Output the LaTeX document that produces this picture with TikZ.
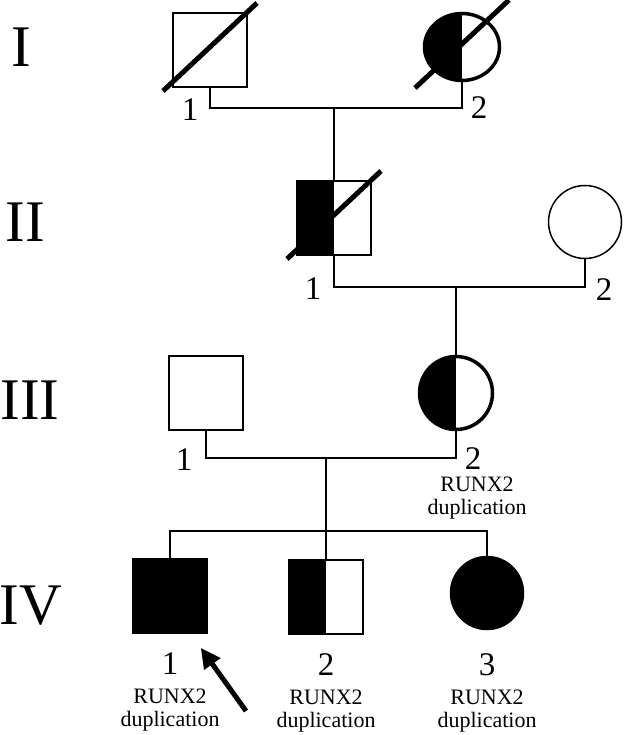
\documentclass[tikz,border=0pt]{standalone}
\usepackage{fontspec}
\setmainfont{Liberation Serif}
\usetikzlibrary{positioning,arrows.meta,calc,shapes.geometric}

\begin{document}
\begin{tikzpicture}[
    x=1pt, y=-1pt,
    every node/.style={inner sep=0pt, align=center},
    male/.style={draw, rectangle, minimum size=74pt, line width=1.5pt},
    female/.style={draw, circle, minimum size=73pt, line width=1.5pt},
    carrier/.style={line width=3.5pt},
    affected/.style={fill=black},
    halfaff/.style={path picture={\fill (path picture bounding box.south west) rectangle (path picture bounding box.north);}},
    dead/.style={line width=5pt},
    rel/.style={line width=1.6pt},
    gen/.style={font=\fontsize{59}{59}\selectfont},
    num/.style={font=\fontsize{33}{33}\selectfont},
    note/.style={font=\fontsize{22}{23}\selectfont},
    proband/.style={-{Triangle[length=20pt,width=19pt]}, line width=5pt}
  ]
  \useasboundingbox (0,0) rectangle (623,735);

  \foreach \g/\x/\y in {I/21/47, II/25/222, III/30/400, IV/31/606}
    {\node[gen] (g\g) at (\x,\y) {\g};}

  \node[male] (i1) at (210,50) {};
  \node[female, ellipse, minimum width=75pt, minimum height=67pt, carrier, halfaff] (i2) at (462,47) {};
  \node[male, halfaff] (ii1) at (334,218) {};
  \node[female] (ii2) at (585,222) {};
  \node[male] (iii1) at (206,393) {};
  \node[female, carrier, halfaff] (iii2) at (456,393) {};
  \node[male, affected] (iv1) at (170,596) {};
  \node[male, halfaff] (iv2) at (326,597) {};
  \node[female, affected] (iv3) at (487,593) {};

  \coordinate (m1) at (334,108);
  \coordinate (m2) at (456,287);
  \coordinate (m3) at (326,458);
  \coordinate (s4) at (326,531);

  \draw[rel] (i1.south) |- (m1) -| (i2.south);
  \draw[rel] (m1) -- (ii1.north);
  \draw[rel] (ii1.south) |- (m2) -| (ii2.south);
  \draw[rel] (m2) -- (iii2.north);
  \draw[rel] (iii1.south) |- (m3) -| (iii2.south);
  \draw[rel] (m3) -- (s4);
  \draw[rel] (iv1.north) |- (s4) -| (iv3.north);
  \draw[rel] (s4) -- (iv2.north);

  \foreach \n in {i1, i2, ii1}
    {\draw[dead] ($(\n)+(-47,41)$) -- ($(\n)+(47,-47)$);}

  \node[num] (i1-n) at (190,110) {1};
  \node[num] (i2-n) at (479,108) {2};
  \node[num] (ii1-n) at (313,289) {1};
  \node[num] (ii2-n) at (604,290) {2};
  \node[num] (iii1-n) at (184,460) {1};
  \node[num] (iii2-n) at (473,459) {2};
  \node[num, below=19pt of iv1] (iv1-n) {1};
  \node[num, below=19pt of iv2] (iv2-n) {2};
  \node[num, below=23pt of iv3] (iv3-n) {3};

  \node[note, below=7pt of iii2-n, xshift=4pt] (iii2-g) {RUNX2\\duplication};
  \foreach \n in {iv1, iv2, iv3}
    {\node[note, below=14pt of \n-n] (\n-g) {RUNX2\\duplication};}

  \coordinate (pb) at (246,711);
  \draw[proband] (pb) -- ([shift={(-7,14)}]iv1.south east);

\end{tikzpicture}
\end{document}
